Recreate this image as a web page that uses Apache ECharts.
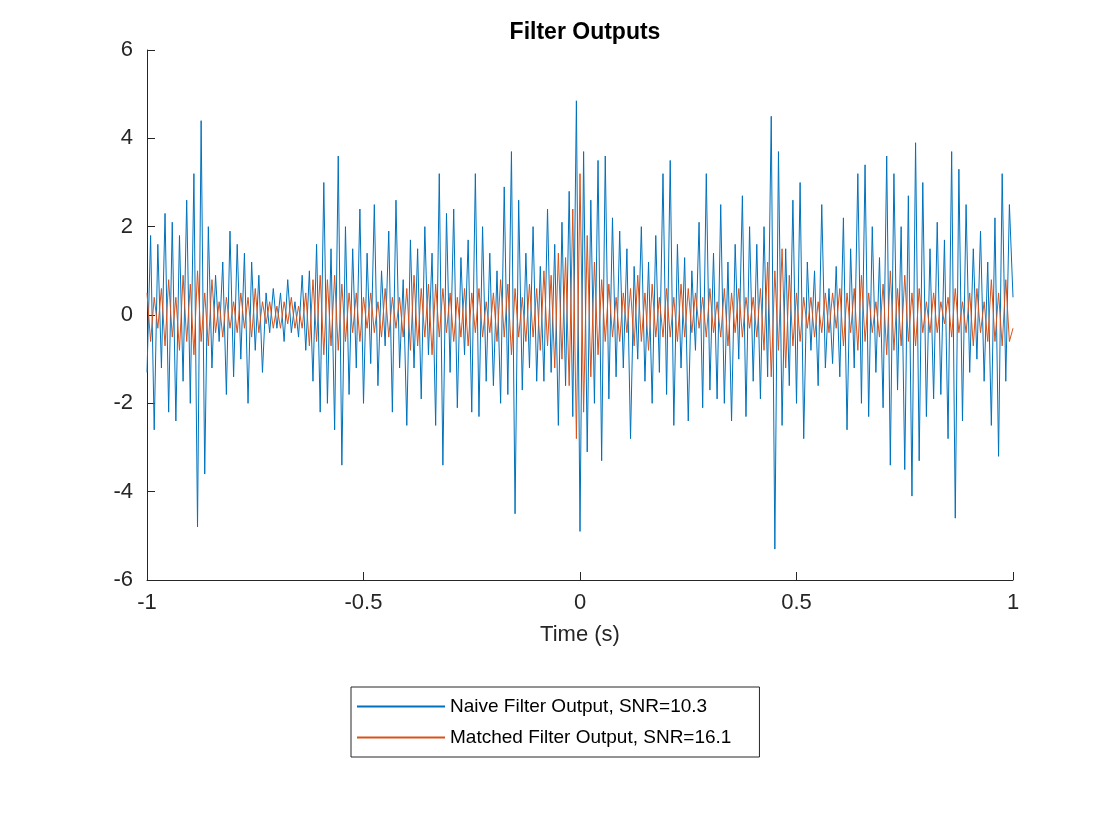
<!DOCTYPE html>
<html>
<head>
<meta charset="utf-8">
<script src="https://cdn.jsdelivr.net/npm/echarts@6/dist/echarts.min.js"></script>
<style>html,body{margin:0;padding:0;background:#fff}#chart{width:1120px;height:840px}</style>
</head>
<body>
<div id="chart"></div>
<script>
// time grid: samples evenly spread over [-1, 1]
var tStart = -1, tEnd = 1;

var naiveOut = [
  -1.3, 1.8, -2.6, 1.6, -1.2, 2.3, -2.2, 2.1, -2.4, 1.8, -1.5, 2.6,
  -2.0, 3.2, -4.8, 4.4, -3.6, 2.0, -1.2, 0.9, -0.6, 1.2, -1.8, 1.9,
  -1.4, 1.6, -1.0, 1.4, -2.0, 1.2, -0.8, 0.9, -1.3, 0.5, -0.4, 0.6,
  -0.3, 0.5, -0.6, 0.8, -0.4, 0.3, -0.5, 0.9, -0.8, 1.0, -1.5, 1.6,
  -2.2, 3.0, -2.0, 1.5, -2.6, 3.6, -3.4, 2.0, -1.8, 1.5, -1.2, 2.4,
  -2.0, 1.4, -1.1, 2.5, -1.6, 1.0, -0.7, 1.9, -2.2, 2.6, -1.2, 0.8,
  -2.5, 1.7, -1.2, 1.5, -1.9, 2.0, -0.9, 1.4, -2.5, 3.2, -3.4, 2.3,
  -1.3, 2.4, -2.1, 1.3, -0.9, 1.7, -2.2, 3.2, -2.3, 2.0, -1.5, 1.4,
  -1.6, 1.0, -2.0, 2.9, -1.8, 3.7, -4.5, 2.6, -1.7, 1.4, -1.2, 2.0,
  -1.5, 1.1, -1.5, 2.4, -1.3, 1.6, -2.5, 2.1, -1.6, 2.8, -2.3, 4.85,
  -4.9, 3.7, -3.1, 2.6, -2.0, 3.5, -3.3, 3.6, -1.9, 2.2, -1.4, 1.9,
  -1.2, 1.5, -2.8, 1.1, -1.0, 2.0, -1.5, 1.2, -2.0, 1.8, -1.3, 3.2,
  -1.8, 3.5, -2.5, 1.6, -1.2, 1.3, -2.4, 1.0, -0.8, 2.1, -2.1, 3.2,
  -1.7, 1.4, -1.9, 2.5, -2.0, 1.2, -2.4, 1.6, -1.0, 2.7, -2.3, 2.0,
  -1.5, 1.6, -1.9, 2.0, -1.4, 4.5, -5.3, 3.7, -2.5, 1.5, -1.6, 2.6,
  -2.0, 3.0, -2.8, 1.2, -0.8, 1.0, -1.6, 2.5, -1.2, 0.6, -1.1, 1.1,
  -1.4, 2.2, -2.6, 1.5, -1.2, 3.2, -2.0, 3.4, -2.3, 2.0, -1.3, 1.3,
  -2.1, 3.6, -3.4, 3.2, -1.7, 2.0, -3.5, 2.7, -4.1, 3.9, -3.3, 3.0,
  -2.3, 1.5, -1.9, 2.1, -1.8, 1.7, -2.8, 3.7, -4.6, 3.3, -2.4, 2.5,
  -1.3, 1.5, -1.0, 1.9, -1.5, 1.2, -2.5, 2.2, -3.2, 3.2, -1.5, 2.5,
  0.4
];

var matchedOut = [
  0.5, -0.6, 0.4, -0.3, 0.6, -0.7, 0.8, -0.5, 0.4, -0.8, 0.9, -0.6,
  0.7, -0.9, 1.0, -0.6, 0.5, -0.7, 0.8, -0.4, 0.3, -0.5, 0.4, -0.3,
  0.3, -0.4, 0.5, -0.3, 0.4, -0.5, 0.6, -0.4, 0.3, -0.2, 0.3, -0.3,
  0.2, -0.3, 0.3, -0.2, 0.4, -0.3, 0.2, -0.3, 0.5, -0.7, 0.8, -0.6,
  0.9, -0.9, 0.8, -0.7, 0.9, -0.8, 0.7, -0.6, 0.5, -0.4, 0.5, -0.6,
  0.4, -0.3, 0.5, -0.4, 0.3, -0.5, 0.6, -0.5, 0.4, -0.3, 0.4, -0.5,
  0.6, -0.8, 0.9, -0.7, 0.6, -0.5, 0.7, -0.9, 0.7, -0.5, 0.6, -0.4,
  0.5, -0.6, 0.4, -0.5, 0.6, -0.7, 0.5, -0.4, 0.6, -0.5, 0.3, -0.4,
  0.5, -0.6, 0.8, -0.5, 0.7, -0.9, 0.6, -0.5, 0.4, -0.6, 0.7, -0.5,
  0.6, -0.8, 1.0, -0.7, 0.9, -1.2, 1.4, -1.0, 1.3, -1.6, 2.4, -2.8,
  3.2, -2.2, 1.8, -1.4, 1.2, -0.9, 0.8, -0.6, 0.7, -0.5, 0.4, -0.6,
  0.5, -0.4, 0.6, -0.7, 0.9, -0.6, 0.5, -0.8, 0.7, -0.5, 0.4, -0.5,
  0.6, -0.5, 0.4, -0.6, 0.7, -0.5, 0.6, -0.4, 0.5, -0.3, 0.4, -0.5,
  0.6, -0.4, 0.3, -0.5, 0.6, -0.7, 0.5, -0.4, 0.6, -0.5, 0.4, -0.3,
  0.4, -0.5, 0.6, -0.8, 1.2, -1.4, 1.0, -0.8, 1.5, -1.2, 0.9, -0.7,
  0.5, -0.6, 0.4, -0.3, 0.4, -0.5, 0.3, -0.4, 0.5, -0.4, 0.5, -0.3,
  0.6, -0.7, 0.5, -0.4, 0.6, -0.8, 0.9, -0.6, 0.5, -0.4, 0.3, -0.5,
  0.7, -0.9, 1.0, -0.8, 0.6, -0.7, 0.9, -0.6, 0.5, -0.7, 0.6, -0.4,
  0.3, -0.4, 0.5, -0.4, 0.3, -0.2, 0.4, -0.5, 0.6, -0.4, 0.3, -0.4,
  0.5, -0.7, 0.6, -0.4, 0.3, -0.6, 0.8, -0.6, 0.5, -0.7, 0.8, -0.6,
  -0.3
];

var seriesNames = ['Naive Filter Output, SNR=10.3', 'Matched Filter Output, SNR=16.1'];

function withTime(vals) {
  var n = vals.length, out = [];
  for (var i = 0; i < n; i++) out.push([tStart + (tEnd - tStart) * i / (n - 1), vals[i]]);
  return out;
}

var txt = '#262626';
var chart = echarts.init(document.getElementById('chart'));
chart.setOption({
  animation: false,
  backgroundColor: '#fff',
  textStyle: { fontFamily: 'Liberation Sans, Arial, sans-serif' },
  title: {
    text: 'Filter Outputs', left: 580, top: 16, textAlign: 'center',
    textStyle: { fontSize: 23, fontWeight: 'bold', color: '#000' }
  },
  grid: { left: 147, right: 107, top: 50, bottom: 260 },
  legend: {
    orient: 'vertical', left: 351, top: 687,
    itemWidth: 88, itemHeight: 2, itemGap: 12,
    padding: [10, 28, 10, 6],
    borderColor: '#262626', borderWidth: 1,
    icon: 'rect',
    textStyle: { fontSize: 19, color: '#000' },
    data: seriesNames
  },
  xAxis: {
    type: 'value', min: -1, max: 1, interval: 0.5,
    name: 'Time (s)', nameLocation: 'middle', nameGap: 44,
    nameTextStyle: { fontSize: 22, color: txt },
    axisLine: { onZero: false, lineStyle: { color: txt } },
    axisTick: { inside: true, length: 8, lineStyle: { color: txt } },
    axisLabel: { fontSize: 22, color: txt, margin: 12 },
    splitLine: { show: false }
  },
  yAxis: {
    type: 'value', min: -6, max: 6, interval: 2,
    axisLine: { show: true, onZero: false, lineStyle: { color: txt } },
    axisTick: { show: true, inside: true, length: 8, lineStyle: { color: txt } },
    axisLabel: { fontSize: 22, color: txt, margin: 14 },
    splitLine: { show: false }
  },
  series: [
    { name: seriesNames[0], type: 'line', data: withTime(naiveOut), showSymbol: false,
      lineStyle: { width: 1, color: '#0072BD' }, itemStyle: { color: '#0072BD' } },
    { name: seriesNames[1], type: 'line', data: withTime(matchedOut), showSymbol: false,
      lineStyle: { width: 1, color: '#D95319' }, itemStyle: { color: '#D95319' } }
  ]
});
</script>
</body>
</html>
